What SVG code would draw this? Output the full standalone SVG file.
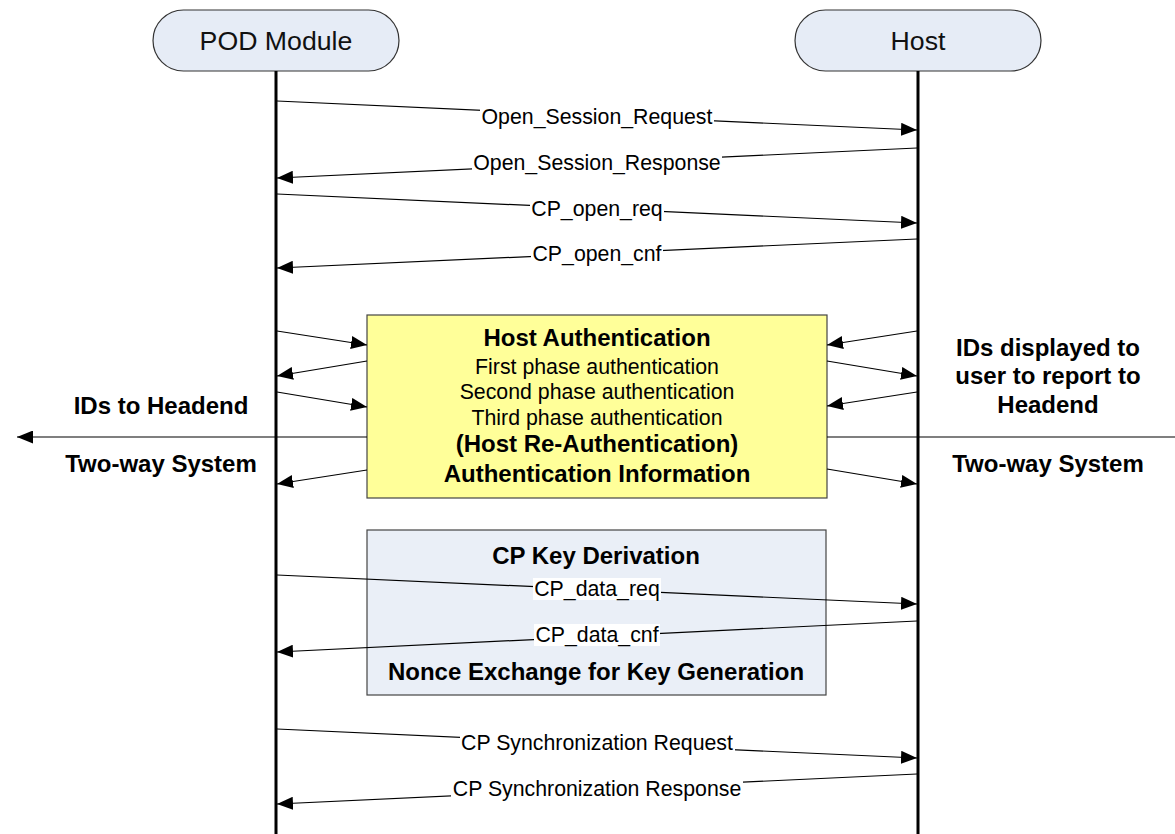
<svg xmlns="http://www.w3.org/2000/svg" width="1175" height="834" viewBox="0 0 1175 834">
<style>
.node{fill:#e6ecf6;stroke:#333;stroke-width:1.2}
.nlabel{font-family:"Liberation Sans",Arial,sans-serif;font-size:26.7px;fill:#111;text-anchor:middle}
.life{stroke:#000;stroke-width:3;fill:none}
.msg{stroke:#000;stroke-width:1.2;fill:none}
.arr{marker-end:url(#ah)}
.lbl{font-family:"Liberation Sans",Arial,sans-serif;font-size:21.3px;fill:#000;text-anchor:middle}
.bold{font-family:"Liberation Sans",Arial,sans-serif;font-size:24px;font-weight:bold;fill:#000;text-anchor:middle}
.bg{fill:#fff;stroke:none}
.auth{fill:#ffff99;stroke:#444;stroke-width:1.2}
.key{fill:#eaeff7;stroke:#444;stroke-width:1.2}
</style>
<defs>
<marker id="ah" viewBox="0 0 16 13" refX="16" refY="6.5" markerWidth="16" markerHeight="13" markerUnits="userSpaceOnUse" orient="auto">
<path d="M0,0 L16,6.5 L0,13 z" fill="#000"/>
</marker>
</defs>
<rect width="1175" height="834" fill="#fff"/>

<g id="node-pod">
<rect class="node" x="153" y="10" width="246" height="61" rx="30.5"/>
<text class="nlabel" x="276" y="50">POD Module</text>
</g>
<g id="node-host">
<rect class="node" x="795" y="10" width="246" height="61" rx="30.5"/>
<text class="nlabel" x="918" y="50">Host</text>
</g>

<g id="box-auth">
<rect class="auth" x="367" y="315" width="460" height="183"/>
<text class="bold" x="597" y="346">Host Authentication</text>
<text class="lbl" x="597" y="373.5">First phase authentication</text>
<text class="lbl" x="597" y="399">Second phase authentication</text>
<text class="lbl" x="597" y="424.5">Third phase authentication</text>
<text class="bold" x="597" y="452">(Host Re-Authentication)</text>
<text class="bold" x="597" y="481.5">Authentication Information</text>
</g>

<g id="box-key">
<rect class="key" x="367" y="530" width="459" height="165"/>
<text class="bold" x="596" y="563.5">CP Key Derivation</text>
<text class="bold" x="596" y="679.5">Nonce Exchange for Key Generation</text>
</g>

<g id="note-left">
<text class="bold" x="161" y="414">IDs to Headend</text>
<text class="bold" x="161" y="472">Two-way System</text>
</g>
<g id="note-right">
<text class="bold" x="1048" y="356">IDs displayed to</text>
<text class="bold" x="1048" y="384">user to report to</text>
<text class="bold" x="1048" y="412.5">Headend</text>
<text class="bold" x="1048" y="472">Two-way System</text>
</g>

<g id="lifelines">
<line class="life" x1="276" y1="71" x2="276" y2="834"/>
<line class="life" x1="918" y1="71" x2="918" y2="834"/>
</g>

<g id="connectors">
<line class="msg arr" x1="277" y1="101" x2="917" y2="130"/>
<line class="msg arr" x1="917" y1="148" x2="277" y2="178"/>
<line class="msg arr" x1="277" y1="194" x2="917" y2="223"/>
<line class="msg arr" x1="917" y1="239" x2="277" y2="268"/>

<line class="msg arr" x1="277" y1="331" x2="367" y2="345"/>
<line class="msg arr" x1="367" y1="361" x2="277" y2="376"/>
<line class="msg arr" x1="277" y1="392" x2="367" y2="407"/>
<line class="msg arr" x1="367" y1="437" x2="17" y2="437"/>
<line class="msg arr" x1="367" y1="470" x2="277" y2="484"/>

<line class="msg arr" x1="917" y1="331" x2="827" y2="345"/>
<line class="msg arr" x1="827" y1="361" x2="917" y2="376"/>
<line class="msg arr" x1="917" y1="392" x2="827" y2="406"/>
<line class="msg" x1="827" y1="437" x2="1175" y2="437"/>
<line class="msg arr" x1="827" y1="469" x2="917" y2="484"/>

<line class="msg arr" x1="277" y1="575" x2="917" y2="604"/>
<line class="msg arr" x1="917" y1="621" x2="277" y2="652"/>
<line class="msg arr" x1="277" y1="729" x2="917" y2="758"/>
<line class="msg arr" x1="917" y1="774" x2="277" y2="804"/>

<rect class="bg" x="480" y="106" width="234" height="22"/>
<text class="lbl" x="597" y="123.5">Open_Session_Request</text>
<rect class="bg" x="472" y="152" width="250" height="22"/>
<text class="lbl" x="597" y="169.5">Open_Session_Response</text>
<rect class="bg" x="530" y="198" width="134" height="22"/>
<text class="lbl" x="597" y="215.5">CP_open_req</text>
<rect class="bg" x="531" y="243" width="132" height="22"/>
<text class="lbl" x="597" y="260.5">CP_open_cnf</text>
<rect class="bg" x="533" y="578" width="128" height="22"/>
<text class="lbl" x="597" y="595.5">CP_data_req</text>
<rect class="bg" x="534" y="624" width="126" height="22"/>
<text class="lbl" x="597" y="641.5">CP_data_cnf</text>
<rect class="bg" x="460" y="732" width="275" height="22"/>
<text class="lbl" x="597" y="749.5">CP Synchronization Request</text>
<rect class="bg" x="451" y="778" width="292" height="22"/>
<text class="lbl" x="597" y="795.5">CP Synchronization Response</text>
</g>
</svg>
